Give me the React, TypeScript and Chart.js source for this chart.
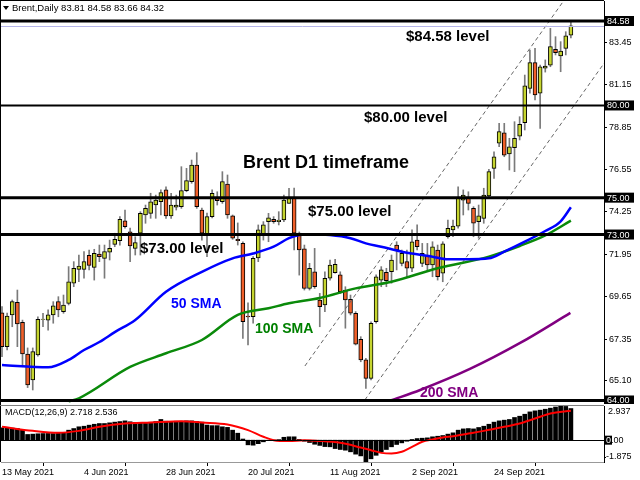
import React, { useEffect, useRef } from "react";
import { Chart, registerables } from "chart.js";

Chart.register(...registerables);

// ---------- DATA ----------
const opens = [
  68.76, 66.92, 68.64, 69.33, 68.24, 66.52, 65.11, 66.47, 68.4, 68.36,
  68.64, 69.36, 68.82, 69.27, 70.36, 71.11, 71.11, 71.87, 71.22, 71.94,
  71.71, 72.04, 72.47, 72.67, 73.75, 73.15, 72.25, 73.07, 74.06, 74.15,
  74.6, 74.78, 75.42, 74.01, 74.48, 74.51, 75.38, 75.87, 76.77, 74.33,
  72.97, 73.97, 74.96, 74.78, 75.74, 74.01, 72.74, 72.52, 68.58, 68.54,
  71.73, 72.97, 73.7, 73.83, 73.7, 73.79, 74.69, 74.96, 73.08, 72.22,
  70.08, 70.98, 69.45, 69.18, 70.63, 70.93, 70.81, 69.99, 69.49, 68.73,
  67.32, 66.2, 65.2, 68.27, 70.53, 70.95, 70.98, 72.43, 71.44, 71.53,
  71.17, 72.7, 71.44, 71.89, 71.35, 72.16, 70.9, 72.88, 73.25, 73.46,
  74.87, 74.96, 74.42, 73.7, 73.88, 75.09, 76.59, 77.95, 78.52, 77.37,
  77.71, 78.34, 79.07, 80.93, 82.32, 80.66, 82.02, 82.19, 83.05, 82.68,
  83.1, 83.81,
];
const highs = [
  69.09, 68.74, 69.45, 69.99, 68.36, 66.85, 66.85, 68.54, 68.73, 68.91,
  69.36, 69.63, 69.72, 71.26, 71.53, 71.89, 72.07, 72.16, 72.2, 72.43,
  72.43, 72.7, 73.07, 73.97, 74.33, 73.35, 72.88, 74.24, 74.6, 75.24,
  75.14, 75.42, 75.59, 75.24, 75.14, 76.68, 76.59, 77.04, 77.44, 74.44,
  74.17, 75.42, 75.32, 76.41, 76.23, 74.06, 73.63, 72.61, 69.29, 71.8,
  73.52, 73.7, 74.15, 73.97, 74.24, 75.14, 75.51, 75.52, 73.14, 72.43,
  71.44, 72.25, 69.81, 70.98, 71.62, 71.66, 70.98, 70.17, 69.72, 68.82,
  67.46, 66.29, 68.27, 70.81, 71.26, 71.17, 71.89, 72.61, 72.16, 72.16,
  73.25, 73.52, 72.52, 72.52, 72.61, 72.43, 72.61, 73.79, 73.79, 75.59,
  75.42, 75.32, 74.51, 74.6, 75.51, 76.54, 77.49, 79.03, 79.03, 78.22,
  79.12, 79.39, 81.65, 83.01, 83.1, 82.19, 82.47, 84.18, 83.73, 83.46,
  84.0, 84.58,
];
const lows = [
  66.37, 66.74, 68.0, 66.92, 65.83, 64.7, 64.57, 66.4, 68.0, 67.82,
  68.19, 68.54, 68.73, 69.18, 70.17, 70.44, 70.63, 71.08, 70.53, 71.53,
  70.63, 71.62, 72.34, 72.43, 73.34, 71.53, 71.89, 71.89, 73.61, 73.88,
  73.88, 74.06, 73.88, 73.88, 74.33, 74.42, 75.32, 75.78, 74.42, 72.7,
  71.8, 73.9, 74.6, 74.69, 73.88, 72.74, 72.43, 67.37, 67.01, 68.19,
  71.53, 72.7, 72.61, 73.61, 73.52, 73.7, 74.69, 72.16, 70.8, 69.99,
  69.99, 70.08, 68.0, 68.82, 70.53, 70.9, 69.81, 67.92, 68.64, 67.01,
  66.1, 64.66, 65.11, 68.19, 70.17, 70.17, 70.36, 71.08, 71.3, 70.71,
  70.98, 72.16, 71.26, 71.08, 70.71, 70.53, 70.44, 72.8, 72.88, 73.34,
  74.06, 74.33, 72.88, 72.8, 73.61, 74.96, 76.05, 77.76, 77.22, 76.5,
  76.41, 78.13, 78.67, 80.66, 80.3, 78.76, 81.81, 82.1, 82.74, 81.83,
  82.74, 83.66,
];
const closes = [
  66.92, 68.58, 69.36, 68.15, 66.52, 64.84, 66.65, 68.4, 68.42, 68.64,
  69.14, 68.91, 69.18, 70.44, 71.17, 71.29, 71.53, 71.33, 71.98, 71.8,
  72.07, 72.25, 72.74, 73.83, 73.43, 72.38, 72.56, 74.15, 74.42, 74.78,
  74.87, 75.27, 74.01, 74.6, 74.6, 75.38, 75.92, 76.77, 74.51, 73.07,
  73.97, 75.24, 74.83, 75.87, 74.06, 72.8, 72.67, 68.27, 68.53, 71.71,
  73.25, 73.52, 73.91, 73.7, 73.79, 74.87, 74.96, 73.07, 72.16, 70.08,
  71.17, 70.17, 69.09, 70.63, 71.35, 71.39, 69.9, 69.45, 68.73, 67.06,
  66.2, 65.2, 68.19, 70.71, 71.08, 70.5, 71.62, 72.16, 71.98, 71.17,
  72.61, 72.34, 71.98, 71.35, 72.34, 70.71, 72.49, 73.34, 73.46, 74.96,
  75.14, 74.69, 73.61, 74.01, 75.14, 76.41, 77.22, 78.58, 77.31, 77.76,
  78.22, 78.98, 81.06, 82.32, 80.57, 82.1, 82.14, 83.19, 82.86, 82.95,
  83.77, 84.32,
];

const sma50X = [0, 9, 13, 16, 19, 22, 26, 32, 39, 45, 49, 53, 56, 58, 60, 64, 68, 71, 74, 78, 84, 87, 91, 95, 98, 102, 106, 109, 111];
const sma50Y = [65.93, 65.8, 66.2, 66.74, 67.17, 67.71, 68.37, 69.9, 70.98, 71.71, 71.97, 72.34, 72.8, 72.97, 73.01, 72.97, 72.8, 72.52, 72.34, 72.07, 71.8, 71.66, 71.66, 71.71, 72.07, 72.61, 73.19, 73.72, 74.48];

const sma100X = [13, 15, 25, 32, 39, 46, 52, 56, 62, 69, 76, 85, 95, 101, 106, 111];
const sma100Y = [63.95, 64.12, 65.82, 66.56, 67.28, 68.64, 69.0, 69.27, 69.56, 70.08, 70.44, 71.17, 71.8, 72.38, 72.95, 73.75];

const sma200X = [75.8, 81.6, 91.3, 101.1, 110.9];
const sma200Y = [64.0, 64.57, 65.71, 67.12, 68.75];

const channelUpperX = [59.1, 109.7];
const channelUpperY = [65.87, 85.72];
const channelLowerX = [70.8, 117.5];
const channelLowerY = [64.03, 82.3];

const levels = [84.58, 80.0, 75.0, 73.0, 64.0];
const bidPrice = 84.32;
const priceTicks = [83.45, 81.15, 78.85, 76.55, 74.25, 71.95, 69.65, 67.35, 65.1];

const macdHist = [
  1.06, 1.06, 1.04, 1.0, 0.86, 0.49, 0.52, 0.55, 0.57, 0.58,
  0.57, 0.6, 0.66, 0.86, 1.0, 1.15, 1.2, 1.29, 1.37, 1.43,
  1.43, 1.49, 1.55, 1.6, 1.66, 1.58, 1.52, 1.52, 1.52, 1.54,
  1.6, 1.78, 1.63, 1.6, 1.63, 1.63, 1.66, 1.66, 1.6, 1.55,
  1.3, 1.25, 1.25, 1.15, 1.1, 0.86, 0.6, 0.1, -0.4, -0.43,
  -0.3, -0.14, 0.0, 0.02, 0.05, 0.25, 0.29, 0.29, 0.06, -0.09,
  -0.2, -0.35, -0.45, -0.55, -0.57, -0.72, -0.8, -0.86, -1.0, -1.2,
  -1.35, -1.875, -1.6, -1.3, -1.0, -0.8, -0.57, -0.37, -0.23, -0.09,
  0.06, 0.14, 0.17, 0.2, 0.29, 0.34, 0.4, 0.52, 0.63, 0.86,
  0.97, 1.0, 0.97, 1.09, 1.2, 1.37, 1.55, 1.66, 1.72, 1.78,
  1.95, 2.06, 2.23, 2.43, 2.52, 2.58, 2.66, 2.75, 2.85, 2.937,
  2.9, 2.718,
];
const signalX = [0, 6, 11, 15, 19, 24, 29, 35, 39, 44, 48, 51, 53, 56, 59, 62, 66, 70, 72, 74, 76, 78, 80, 82, 84, 86, 88, 91, 94, 98, 101, 104, 107, 111];
const signalY = [1.15, 0.8, 0.63, 0.8, 1.15, 1.43, 1.52, 1.63, 1.52, 1.35, 0.86, 0.29, 0.0, -0.08, 0.0, -0.06, -0.23, -0.63, -0.86, -1.09, -1.15, -1.0, -0.57, -0.14, 0.06, 0.23, 0.34, 0.57, 0.8, 1.15, 1.43, 1.86, 2.29, 2.536];
const macdMax = 2.937;
const macdMin = -1.875;

const dateTickIdx = [0, 16, 32, 48, 64, 80, 96];
const dateTickLabels = ["13 May 2021", "4 Jun 2021", "28 Jun 2021", "20 Jul 2021", "11 Aug 2021", "2 Sep 2021", "24 Sep 2021"];

const annoText = ["$84.58 level", "$80.00 level", "Brent D1 timeframe", "$75.00 level", "$73.00 level", "50 SMA", "100 SMA", "200 SMA"];
const annoX = [78.83, 70.63, 47.02, 59.71, 26.93, 32.98, 49.37, 81.56];
const annoY = [83.71, 79.32, 76.88, 74.22, 72.22, 69.23, 67.88, 64.4];

const headerText = "Brent,Daily 83.81 84.58 83.66 84.32";
const macdHeader = "MACD(12,26,9) 2.718 2.536";

// ---------- STYLE ----------
const X_MIN = -0.195;
const X_MAX = 117.46;
const Y_MIN = 63.864;
const Y_MAX = 85.665;
const AXIS_W = 36;
const FONT = "'Liberation Sans', Arial, sans-serif";
const BULL = "#c6d530";
const BEAR = "#f0602a";
const WICK = "#7a7a7a";
const levelWidth = [3, 2, 3, 3, 3];
const annoFont = ["bold 15px", "bold 15px", "bold 18px", "bold 15px", "bold 15px", "bold 14px", "bold 14px", "bold 14px"];
const annoColor = ["#000", "#000", "#000", "#000", "#000", "#0000ff", "#008000", "#800080"];

const mainDecor = {
  id: "mainDecor",
  afterDatasetsDraw(chart: any) {
    const { ctx, chartArea: a, scales } = chart;
    const x = scales.x;
    const y = scales.y;
    ctx.save();
    const by = Math.round(y.getPixelForValue(bidPrice)) + 0.5;
    ctx.strokeStyle = "#b4b4e8";
    ctx.lineWidth = 1;
    ctx.beginPath();
    ctx.moveTo(a.left, by);
    ctx.lineTo(a.right, by);
    ctx.stroke();
    ctx.strokeStyle = "#000";
    levels.forEach((v, k) => {
      const py = y.getPixelForValue(v);
      ctx.lineWidth = levelWidth[k];
      ctx.beginPath();
      ctx.moveTo(a.left, py);
      ctx.lineTo(a.right, py);
      ctx.stroke();
    });
    ctx.textAlign = "left";
    ctx.textBaseline = "middle";
    annoText.forEach((t, k) => {
      ctx.font = `${annoFont[k]} ${FONT}`;
      ctx.fillStyle = annoColor[k];
      ctx.fillText(t, x.getPixelForValue(annoX[k]), y.getPixelForValue(annoY[k]));
    });
    ctx.restore();
  },
  afterDraw(chart: any) {
    const { ctx, chartArea: a, scales } = chart;
    const y = scales.y;
    ctx.save();
    ctx.strokeStyle = "#000";
    ctx.lineWidth = 1;
    ctx.beginPath();
    ctx.moveTo(0.5, 0);
    ctx.lineTo(0.5, chart.height);
    ctx.moveTo(0, 0.5);
    ctx.lineTo(a.right, 0.5);
    ctx.stroke();
    ctx.font = `9px ${FONT}`;
    ctx.textBaseline = "middle";
    ctx.textAlign = "left";
    ctx.fillStyle = "#000";
    priceTicks.forEach((v) => {
      const py = Math.round(y.getPixelForValue(v)) + 0.5;
      ctx.beginPath();
      ctx.moveTo(a.right, py);
      ctx.lineTo(a.right + 3, py);
      ctx.stroke();
      ctx.fillText(v.toFixed(2), a.right + 5, py);
    });
    levels.forEach((v) => {
      const py = y.getPixelForValue(v);
      ctx.fillStyle = "#000";
      ctx.fillRect(a.right, py - 5, 30, 10);
      ctx.fillStyle = "#fff";
      ctx.fillText(v.toFixed(2), a.right + 3, py + 0.5);
    });
    ctx.fillStyle = "#000";
    ctx.beginPath();
    ctx.moveTo(3, 6);
    ctx.lineTo(9, 6);
    ctx.lineTo(6, 10);
    ctx.closePath();
    ctx.fill();
    ctx.font = `9.5px ${FONT}`;
    ctx.fillText(headerText, 12, 8.5);
    ctx.restore();
  },
};

const macdDecor = {
  id: "macdDecor",
  afterDatasetsDraw(chart: any) {
    const { ctx, chartArea: a, scales } = chart;
    const y = scales.y;
    ctx.save();
    const zy = Math.round(y.getPixelForValue(0)) + 0.5;
    ctx.strokeStyle = "#000";
    ctx.lineWidth = 1;
    ctx.beginPath();
    ctx.moveTo(a.left, zy);
    ctx.lineTo(a.right, zy);
    ctx.stroke();
    ctx.restore();
  },
  afterDraw(chart: any) {
    const { ctx, chartArea: a, scales } = chart;
    const y = scales.y;
    ctx.save();
    ctx.strokeStyle = "#000";
    ctx.lineWidth = 1;
    ctx.beginPath();
    ctx.moveTo(0.5, 0);
    ctx.lineTo(0.5, a.bottom);
    ctx.stroke();
    ctx.strokeStyle = "#808080";
    ctx.beginPath();
    ctx.moveTo(0, a.top - 0.5);
    ctx.lineTo(a.right, a.top - 0.5);
    ctx.stroke();
    ctx.font = `9px ${FONT}`;
    ctx.textBaseline = "middle";
    ctx.textAlign = "left";
    ctx.fillStyle = "#000";
    ctx.fillText(macdHeader, 5, a.top + 7);
    const zy = y.getPixelForValue(0);
    ctx.fillText(macdMax.toFixed(3), a.right + 4, a.top + 6);
    ctx.fillText(macdMin.toFixed(3), a.right + 2, a.bottom - 5);
    ctx.fillRect(a.right + 1, zy - 4.5, 7, 9);
    ctx.fillStyle = "#fff";
    ctx.fillText("0", a.right + 2, zy + 0.5);
    const w0 = ctx.measureText("0").width;
    ctx.fillStyle = "#000";
    ctx.fillText(".00", a.right + 2 + w0, zy + 0.5);
    ctx.strokeStyle = "#000";
    ctx.beginPath();
    ctx.moveTo(a.right, Math.round(a.bottom - 5) + 0.5);
    ctx.lineTo(a.right + 2, Math.round(a.bottom - 5) + 0.5);
    ctx.stroke();
    ctx.restore();
  },
};

export default function App() {
  const mainRef = useRef<HTMLCanvasElement>(null);
  const macdRef = useRef<HTMLCanvasElement>(null);

  useEffect(() => {
    const wickData = lows.map((l, i) => ({ x: i, y: [l, highs[i]] }));
    const bodyData = opens.map((o, i) => ({ x: i, y: [o, closes[i]] }));
    const bodyColors = opens.map((o, i) => (closes[i] >= o ? BULL : BEAR));
    const lineDs = (xs: number[], ys: number[], color: string, width: number, dash: number[] = []) => ({
      type: "line" as const,
      data: xs.map((x, i) => ({ x, y: ys[i] })),
      borderColor: color,
      borderWidth: width,
      borderDash: dash,
      pointRadius: 0,
      cubicInterpolationMode: "monotone" as const,
      order: 0,
    });

    const main = new Chart(mainRef.current!, {
      type: "bar",
      data: {
        datasets: [
          {
            type: "bar",
            data: wickData as any,
            backgroundColor: WICK,
            barThickness: 1,
            grouped: false,
            order: 3,
          } as any,
          {
            type: "bar",
            data: bodyData as any,
            backgroundColor: bodyColors,
            borderColor: "#000",
            borderWidth: 1,
            borderSkipped: false,
            barThickness: 4,
            grouped: false,
            order: 2,
          } as any,
          lineDs(sma50X, sma50Y, "#0000ff", 2.5),
          lineDs(sma100X, sma100Y, "#0a8a0a", 2.5),
          lineDs(sma200X, sma200Y, "#800080", 2.5),
          lineDs(channelUpperX, channelUpperY, "#666", 1, [4, 3]),
          lineDs(channelLowerX, channelLowerY, "#666", 1, [4, 3]),
        ],
      },
      options: {
        responsive: false,
        animation: false,
        devicePixelRatio: 1,
        layout: { padding: { left: 1, top: 1, right: 0, bottom: 1 } },
        plugins: { legend: { display: false }, tooltip: { enabled: false } },
        scales: {
          x: { type: "linear", min: X_MIN, max: X_MAX, offset: false, display: false },
          y: {
            type: "linear",
            position: "right",
            min: Y_MIN,
            max: Y_MAX,
            afterFit: (s: any) => {
              s.width = AXIS_W;
            },
            ticks: { display: false },
            grid: { display: false },
            border: { color: "#000", width: 1 },
          },
        },
      } as any,
      plugins: [mainDecor],
    });

    const macd = new Chart(macdRef.current!, {
      type: "bar",
      data: {
        datasets: [
          {
            type: "bar",
            data: macdHist.map((v, i) => ({ x: i, y: v })) as any,
            backgroundColor: "#000",
            barThickness: 4,
            grouped: false,
            order: 2,
          } as any,
          {
            type: "line",
            data: signalX.map((x, i) => ({ x, y: signalY[i] })),
            borderColor: "#ff0000",
            borderWidth: 2,
            pointRadius: 0,
            cubicInterpolationMode: "monotone",
            order: 0,
          } as any,
        ],
      },
      options: {
        responsive: false,
        animation: false,
        devicePixelRatio: 1,
        layout: { padding: { left: 1, top: 2, right: 0, bottom: 0 } },
        plugins: { legend: { display: false }, tooltip: { enabled: false } },
        scales: {
          x: {
            type: "linear",
            min: X_MIN,
            max: X_MAX,
            offset: false,
            afterBuildTicks: (s: any) => {
              s.ticks = dateTickIdx.map((v) => ({ value: v }));
            },
            afterFit: (s: any) => {
              s.height = 18;
            },
            ticks: {
              callback: (v: any) => dateTickLabels[dateTickIdx.indexOf(Number(v))],
              align: "start",
              maxRotation: 0,
              autoSkip: false,
              font: { family: FONT, size: 9 },
              color: "#000",
              padding: 1,
            },
            grid: { drawOnChartArea: false, tickLength: 4, color: "#000" },
            border: { color: "#999", width: 1 },
          },
          y: {
            type: "linear",
            position: "right",
            min: macdMin,
            max: macdMax,
            afterFit: (s: any) => {
              s.width = AXIS_W;
            },
            ticks: { display: false },
            grid: { display: false },
            border: { color: "#000", width: 1 },
          },
        },
      } as any,
      plugins: [macdDecor],
    });

    return () => {
      main.destroy();
      macd.destroy();
    };
  }, []);

  return (
    <div style={{ position: "absolute", left: 0, top: 0, width: 640, height: 480, background: "#fff" }}>
      <canvas ref={mainRef} width={640} height={404} style={{ position: "absolute", left: 0, top: 0, width: 640, height: 404 }} />
      <canvas ref={macdRef} width={640} height={76} style={{ position: "absolute", left: 0, top: 404, width: 640, height: 76 }} />
    </div>
  );
}
